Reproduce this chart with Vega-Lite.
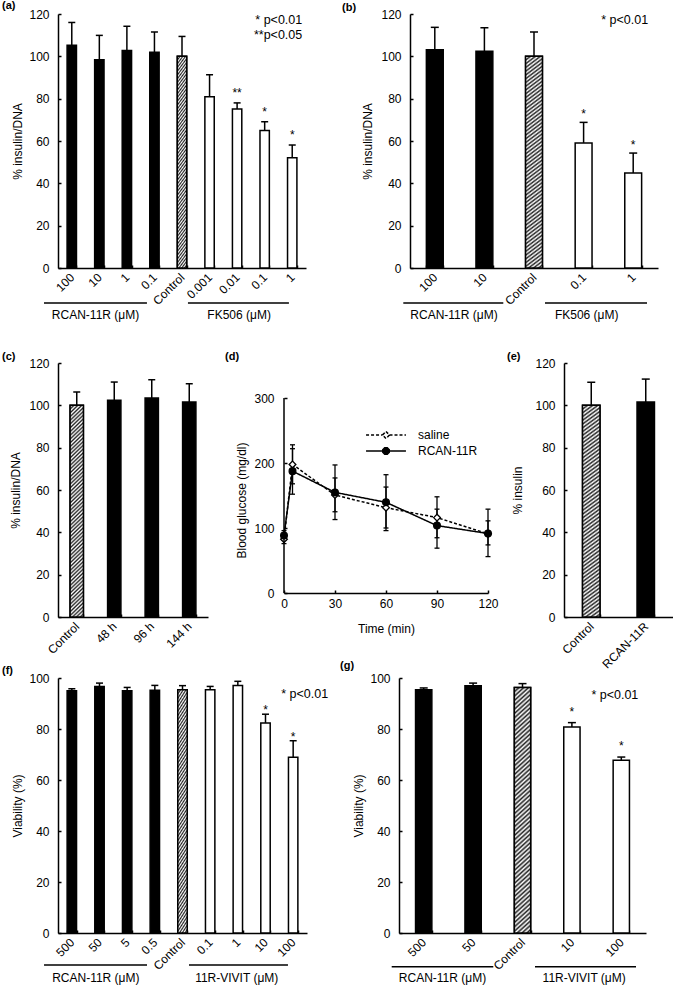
{
"$schema": "https://vega.github.io/schema/vega-lite/v6.json",
"background": "white",
"padding": {"left": 2, "top": 0, "right": 0, "bottom": 0},
"config": {
  "font": "Liberation Sans",
  "view": {"stroke": null},
  "axis": {"domainColor": "black", "domainWidth": 1.5, "tickColor": "black", "tickWidth": 1.5, "tickSize": -3, "labelColor": "black", "labelFontSize": 12, "titleColor": "black", "titleFontSize": 12, "titleFontWeight": "normal", "grid": false, "labelPadding": 12, "titlePadding": 4},
  "axisBand": {"labelAngle": -45, "labelAlign": "right", "labelBaseline": "middle", "tickBand": "extent", "labelPadding": 10},
  "title": {"anchor": "start", "frame": "group", "fontSize": 11, "fontWeight": "bold", "color": "black", "offset": -5, "baseline": "bottom"},
  "text": {"color": "black", "fontSize": 12}
},
"datasets": {
  "a": [
    {"key":"R:100","group":"rcan","mean":105.2,"upper":116.0,"star":""},
    {"key":"R:10","group":"rcan","mean":98.4,"upper":109.9,"star":""},
    {"key":"R:1","group":"rcan","mean":102.8,"upper":114.2,"star":""},
    {"key":"R:0.1","group":"rcan","mean":101.9,"upper":111.5,"star":""},
    {"key":"C:Control","group":"control","mean":100,"upper":109.4,"star":""},
    {"key":"F:0.001","group":"drug","mean":80.9,"upper":91.3,"star":""},
    {"key":"F:0.01","group":"drug","mean":75.1,"upper":78.0,"star":"**"},
    {"key":"F:0.1","group":"drug","mean":65.0,"upper":69.1,"star":"*"},
    {"key":"F:1","group":"drug","mean":52.1,"upper":58.1,"star":"*"}
  ],
  "b": [
    {"key":"R:100","group":"rcan","mean":103.1,"upper":113.7,"star":""},
    {"key":"R:10","group":"rcan","mean":102.4,"upper":113.5,"star":""},
    {"key":"C:Control","group":"control","mean":100,"upper":111.5,"star":""},
    {"key":"F:0.1","group":"drug","mean":59.1,"upper":68.8,"star":"*"},
    {"key":"F:1","group":"drug","mean":44.9,"upper":54.3,"star":"*"}
  ],
  "c": [
    {"key":"C:Control","group":"control","mean":100,"upper":106.3},
    {"key":"T:48 h","group":"rcan","mean":102.4,"upper":111.0},
    {"key":"T:96 h","group":"rcan","mean":103.5,"upper":112.1},
    {"key":"T:144 h","group":"rcan","mean":101.6,"upper":110.2}
  ],
  "d": [
    {"series":"saline","time":0,"mean":82.8,"lower":76,"upper":90},
    {"series":"saline","time":5,"mean":197.8,"lower":168,"upper":228},
    {"series":"saline","time":30,"mean":150.7,"lower":125,"upper":177},
    {"series":"saline","time":60,"mean":131.3,"lower":100,"upper":163},
    {"series":"saline","time":90,"mean":116,"lower":85,"upper":148},
    {"series":"saline","time":120,"mean":91,"lower":74,"upper":111},
    {"series":"RCAN-11R","time":0,"mean":88.4,"lower":81,"upper":96},
    {"series":"RCAN-11R","time":5,"mean":187.5,"lower":152,"upper":222},
    {"series":"RCAN-11R","time":30,"mean":154.8,"lower":113,"upper":197},
    {"series":"RCAN-11R","time":60,"mean":139.5,"lower":96,"upper":182},
    {"series":"RCAN-11R","time":90,"mean":103.7,"lower":69,"upper":129},
    {"series":"RCAN-11R","time":120,"mean":91.5,"lower":56,"upper":129}
  ],
  "e": [
    {"key":"C:Control","group":"control","mean":100,"upper":110.9},
    {"key":"R:RCAN-11R","group":"rcan","mean":101.6,"upper":112.4}
  ],
  "f": [
    {"key":"R:500","group":"rcan","mean":95.0,"upper":95.8,"star":""},
    {"key":"R:50","group":"rcan","mean":96.7,"upper":98.0,"star":""},
    {"key":"R:5","group":"rcan","mean":95.0,"upper":96.3,"star":""},
    {"key":"R:0.5","group":"rcan","mean":95.2,"upper":97.1,"star":""},
    {"key":"C:Control","group":"control","mean":95.4,"upper":97.0,"star":""},
    {"key":"V:0.1","group":"drug","mean":95.4,"upper":96.7,"star":""},
    {"key":"V:1","group":"drug","mean":97.1,"upper":98.7,"star":""},
    {"key":"V:10","group":"drug","mean":82.4,"upper":85.8,"star":"*"},
    {"key":"V:100","group":"drug","mean":68.9,"upper":75.4,"star":"*"}
  ],
  "g": [
    {"key":"R:500","group":"rcan","mean":95.4,"upper":96.1,"star":""},
    {"key":"R:50","group":"rcan","mean":97.0,"upper":98.0,"star":""},
    {"key":"C:Control","group":"control","mean":96.3,"upper":97.8,"star":""},
    {"key":"V:10","group":"drug","mean":80.8,"upper":82.5,"star":"*"},
    {"key":"V:100","group":"drug","mean":67.7,"upper":69.0,"star":"*"}
  ]
},
"bounds": "flush",
"spacing": 349,
"resolve": {"scale": {"strokeDash": "independent"}, "legend": {"strokeDash": "independent"}},
"vconcat": [
 {"hconcat": [
  {"width": 248, "height": 254, "title": {"text": "(a)", "dx": -56}, "data": {"name": "a"},
   "layer": [
    {"mark": {"type": "bar", "stroke": "black", "strokeWidth": 1.5},
     "encoding": {
      "x": {"field": "key", "type": "nominal", "scale": {"domain": ["R:100","R:10","R:1","R:0.1","C:Control","F:0.001","F:0.01","F:0.1","F:1"], "paddingInner": 0.66, "paddingOuter": 0.33}, "axis": {"title": null, "labelExpr": "substring(datum.label, 2)"}},
      "y": {"field": "mean", "type": "quantitative", "scale": {"domain": [0, 120], "nice": false}, "axis": {"values": [0,20,40,60,80,100,120], "title": "% insulin/DNA"}},
      "color": {"field": "group", "type": "nominal", "scale": {"domain": ["rcan","control","drug"], "range": ["black","white","white"]}, "legend": null}}},
    {"transform": [{"filter": "datum.group === 'control'"}], "mark": {"type": "bar", "stroke": "black", "strokeWidth": 1.5, "fill": {"gradient": "linear", "x1": 0, "y1": 0, "x2": 0.064, "y2": 1.06, "stops": [{"offset":0,"color":"#222"},{"offset":0.0083,"color":"#fff"},{"offset":0.0167,"color":"#222"},{"offset":0.025,"color":"#fff"},{"offset":0.0333,"color":"#222"},{"offset":0.0417,"color":"#fff"},{"offset":0.05,"color":"#222"},{"offset":0.0583,"color":"#fff"},{"offset":0.0667,"color":"#222"},{"offset":0.075,"color":"#fff"},{"offset":0.0833,"color":"#222"},{"offset":0.0917,"color":"#fff"},{"offset":0.1,"color":"#222"},{"offset":0.1083,"color":"#fff"},{"offset":0.1167,"color":"#222"},{"offset":0.125,"color":"#fff"},{"offset":0.1333,"color":"#222"},{"offset":0.1417,"color":"#fff"},{"offset":0.15,"color":"#222"},{"offset":0.1583,"color":"#fff"},{"offset":0.1667,"color":"#222"},{"offset":0.175,"color":"#fff"},{"offset":0.1833,"color":"#222"},{"offset":0.1917,"color":"#fff"},{"offset":0.2,"color":"#222"},{"offset":0.2083,"color":"#fff"},{"offset":0.2167,"color":"#222"},{"offset":0.225,"color":"#fff"},{"offset":0.2333,"color":"#222"},{"offset":0.2417,"color":"#fff"},{"offset":0.25,"color":"#222"},{"offset":0.2583,"color":"#fff"},{"offset":0.2667,"color":"#222"},{"offset":0.275,"color":"#fff"},{"offset":0.2833,"color":"#222"},{"offset":0.2917,"color":"#fff"},{"offset":0.3,"color":"#222"},{"offset":0.3083,"color":"#fff"},{"offset":0.3167,"color":"#222"},{"offset":0.325,"color":"#fff"},{"offset":0.3333,"color":"#222"},{"offset":0.3417,"color":"#fff"},{"offset":0.35,"color":"#222"},{"offset":0.3583,"color":"#fff"},{"offset":0.3667,"color":"#222"},{"offset":0.375,"color":"#fff"},{"offset":0.3833,"color":"#222"},{"offset":0.3917,"color":"#fff"},{"offset":0.4,"color":"#222"},{"offset":0.4083,"color":"#fff"},{"offset":0.4167,"color":"#222"},{"offset":0.425,"color":"#fff"},{"offset":0.4333,"color":"#222"},{"offset":0.4417,"color":"#fff"},{"offset":0.45,"color":"#222"},{"offset":0.4583,"color":"#fff"},{"offset":0.4667,"color":"#222"},{"offset":0.475,"color":"#fff"},{"offset":0.4833,"color":"#222"},{"offset":0.4917,"color":"#fff"},{"offset":0.5,"color":"#222"},{"offset":0.5083,"color":"#fff"},{"offset":0.5167,"color":"#222"},{"offset":0.525,"color":"#fff"},{"offset":0.5333,"color":"#222"},{"offset":0.5417,"color":"#fff"},{"offset":0.55,"color":"#222"},{"offset":0.5583,"color":"#fff"},{"offset":0.5667,"color":"#222"},{"offset":0.575,"color":"#fff"},{"offset":0.5833,"color":"#222"},{"offset":0.5917,"color":"#fff"},{"offset":0.6,"color":"#222"},{"offset":0.6083,"color":"#fff"},{"offset":0.6167,"color":"#222"},{"offset":0.625,"color":"#fff"},{"offset":0.6333,"color":"#222"},{"offset":0.6417,"color":"#fff"},{"offset":0.65,"color":"#222"},{"offset":0.6583,"color":"#fff"},{"offset":0.6667,"color":"#222"},{"offset":0.675,"color":"#fff"},{"offset":0.6833,"color":"#222"},{"offset":0.6917,"color":"#fff"},{"offset":0.7,"color":"#222"},{"offset":0.7083,"color":"#fff"},{"offset":0.7167,"color":"#222"},{"offset":0.725,"color":"#fff"},{"offset":0.7333,"color":"#222"},{"offset":0.7417,"color":"#fff"},{"offset":0.75,"color":"#222"},{"offset":0.7583,"color":"#fff"},{"offset":0.7667,"color":"#222"},{"offset":0.775,"color":"#fff"},{"offset":0.7833,"color":"#222"},{"offset":0.7917,"color":"#fff"},{"offset":0.8,"color":"#222"},{"offset":0.8083,"color":"#fff"},{"offset":0.8167,"color":"#222"},{"offset":0.825,"color":"#fff"},{"offset":0.8333,"color":"#222"},{"offset":0.8417,"color":"#fff"},{"offset":0.85,"color":"#222"},{"offset":0.8583,"color":"#fff"},{"offset":0.8667,"color":"#222"},{"offset":0.875,"color":"#fff"},{"offset":0.8833,"color":"#222"},{"offset":0.8917,"color":"#fff"},{"offset":0.9,"color":"#222"},{"offset":0.9083,"color":"#fff"},{"offset":0.9167,"color":"#222"},{"offset":0.925,"color":"#fff"},{"offset":0.9333,"color":"#222"},{"offset":0.9417,"color":"#fff"},{"offset":0.95,"color":"#222"},{"offset":0.9583,"color":"#fff"},{"offset":0.9667,"color":"#222"},{"offset":0.975,"color":"#fff"},{"offset":0.9833,"color":"#222"},{"offset":0.9917,"color":"#fff"},{"offset":1,"color":"#222"}]}}, "encoding": {"x": {"field": "key", "type": "nominal"}, "y": {"field": "mean", "type": "quantitative"}}},
    {"mark": {"type": "rule", "color": "black", "strokeWidth": 1.5}, "encoding": {"x": {"field": "key", "type": "nominal"}, "y": {"field": "mean", "type": "quantitative"}, "y2": {"field": "upper"}}},
    {"mark": {"type": "tick", "orient": "horizontal", "size": 7, "thickness": 1.5, "color": "black", "opacity": 1}, "encoding": {"x": {"field": "key", "type": "nominal"}, "y": {"field": "upper", "type": "quantitative"}}},
    {"mark": {"type": "text", "baseline": "alphabetic", "dy": -6, "fontSize": 12}, "encoding": {"x": {"field": "key", "type": "nominal"}, "y": {"field": "upper", "type": "quantitative"}, "text": {"field": "star"}}},
    {"data": {"values": [{}]}, "mark": {"type": "text", "align": "right", "baseline": "alphabetic", "lineHeight": 15, "dx": 10, "fontSize": 12.5}, "encoding": {"x": {"datum": "F:1"}, "y": {"datum": 115.3}, "text": {"value": ["* p<0.01", "**p<0.05"]}}},
    {"data": {"values": [{}]}, "mark": {"type": "rule", "color": "black", "strokeWidth": 1.5, "xOffset": -27.8, "x2Offset": -7.5}, "encoding": {"x": {"datum": "R:100"}, "x2": {"datum": "R:0.1"}, "y": {"datum": -16.5}}},
    {"data": {"values": [{}]}, "mark": {"type": "rule", "color": "black", "strokeWidth": 1.5, "xOffset": -21.6, "x2Offset": -3.3}, "encoding": {"x": {"datum": "F:0.001"}, "x2": {"datum": "F:1"}, "y": {"datum": -16.5}}},
    {"data": {"values": [{}]}, "mark": {"type": "text", "baseline": "middle", "dx": -3.8}, "encoding": {"x": {"datum": "R:10"}, "y": {"datum": -22.2}, "text": {"value": "RCAN-11R (μM)"}}},
    {"data": {"values": [{}]}, "mark": {"type": "text", "baseline": "middle", "dx": 2}, "encoding": {"x": {"datum": "F:0.01"}, "y": {"datum": -22.2}, "text": {"value": "FK506 (μM)"}}}
   ]},
  {"width": 248, "height": 254, "title": {"text": "(b)", "dx": -68}, "data": {"name": "b"},
   "layer": [
    {"mark": {"type": "bar", "stroke": "black", "strokeWidth": 1.5},
     "encoding": {
      "x": {"field": "key", "type": "nominal", "scale": {"domain": ["R:100","R:10","C:Control","F:0.1","F:1"], "paddingInner": 0.66, "paddingOuter": 0.33}, "axis": {"title": null, "labelExpr": "substring(datum.label, 2)"}},
      "y": {"field": "mean", "type": "quantitative", "scale": {"domain": [0, 120], "nice": false}, "axis": {"values": [0,20,40,60,80,100,120], "title": "% insulin/DNA", "titlePadding": 6}},
      "color": {"field": "group", "type": "nominal", "scale": {"domain": ["rcan","control","drug"], "range": ["black","white","white"]}, "legend": null}}},
    {"transform": [{"filter": "datum.group === 'control'"}], "mark": {"type": "bar", "stroke": "black", "strokeWidth": 1.5, "fill": {"gradient": "linear", "x1": 0, "y1": 0, "x2": 0.064, "y2": 1.06, "stops": [{"offset":0,"color":"#222"},{"offset":0.0083,"color":"#fff"},{"offset":0.0167,"color":"#222"},{"offset":0.025,"color":"#fff"},{"offset":0.0333,"color":"#222"},{"offset":0.0417,"color":"#fff"},{"offset":0.05,"color":"#222"},{"offset":0.0583,"color":"#fff"},{"offset":0.0667,"color":"#222"},{"offset":0.075,"color":"#fff"},{"offset":0.0833,"color":"#222"},{"offset":0.0917,"color":"#fff"},{"offset":0.1,"color":"#222"},{"offset":0.1083,"color":"#fff"},{"offset":0.1167,"color":"#222"},{"offset":0.125,"color":"#fff"},{"offset":0.1333,"color":"#222"},{"offset":0.1417,"color":"#fff"},{"offset":0.15,"color":"#222"},{"offset":0.1583,"color":"#fff"},{"offset":0.1667,"color":"#222"},{"offset":0.175,"color":"#fff"},{"offset":0.1833,"color":"#222"},{"offset":0.1917,"color":"#fff"},{"offset":0.2,"color":"#222"},{"offset":0.2083,"color":"#fff"},{"offset":0.2167,"color":"#222"},{"offset":0.225,"color":"#fff"},{"offset":0.2333,"color":"#222"},{"offset":0.2417,"color":"#fff"},{"offset":0.25,"color":"#222"},{"offset":0.2583,"color":"#fff"},{"offset":0.2667,"color":"#222"},{"offset":0.275,"color":"#fff"},{"offset":0.2833,"color":"#222"},{"offset":0.2917,"color":"#fff"},{"offset":0.3,"color":"#222"},{"offset":0.3083,"color":"#fff"},{"offset":0.3167,"color":"#222"},{"offset":0.325,"color":"#fff"},{"offset":0.3333,"color":"#222"},{"offset":0.3417,"color":"#fff"},{"offset":0.35,"color":"#222"},{"offset":0.3583,"color":"#fff"},{"offset":0.3667,"color":"#222"},{"offset":0.375,"color":"#fff"},{"offset":0.3833,"color":"#222"},{"offset":0.3917,"color":"#fff"},{"offset":0.4,"color":"#222"},{"offset":0.4083,"color":"#fff"},{"offset":0.4167,"color":"#222"},{"offset":0.425,"color":"#fff"},{"offset":0.4333,"color":"#222"},{"offset":0.4417,"color":"#fff"},{"offset":0.45,"color":"#222"},{"offset":0.4583,"color":"#fff"},{"offset":0.4667,"color":"#222"},{"offset":0.475,"color":"#fff"},{"offset":0.4833,"color":"#222"},{"offset":0.4917,"color":"#fff"},{"offset":0.5,"color":"#222"},{"offset":0.5083,"color":"#fff"},{"offset":0.5167,"color":"#222"},{"offset":0.525,"color":"#fff"},{"offset":0.5333,"color":"#222"},{"offset":0.5417,"color":"#fff"},{"offset":0.55,"color":"#222"},{"offset":0.5583,"color":"#fff"},{"offset":0.5667,"color":"#222"},{"offset":0.575,"color":"#fff"},{"offset":0.5833,"color":"#222"},{"offset":0.5917,"color":"#fff"},{"offset":0.6,"color":"#222"},{"offset":0.6083,"color":"#fff"},{"offset":0.6167,"color":"#222"},{"offset":0.625,"color":"#fff"},{"offset":0.6333,"color":"#222"},{"offset":0.6417,"color":"#fff"},{"offset":0.65,"color":"#222"},{"offset":0.6583,"color":"#fff"},{"offset":0.6667,"color":"#222"},{"offset":0.675,"color":"#fff"},{"offset":0.6833,"color":"#222"},{"offset":0.6917,"color":"#fff"},{"offset":0.7,"color":"#222"},{"offset":0.7083,"color":"#fff"},{"offset":0.7167,"color":"#222"},{"offset":0.725,"color":"#fff"},{"offset":0.7333,"color":"#222"},{"offset":0.7417,"color":"#fff"},{"offset":0.75,"color":"#222"},{"offset":0.7583,"color":"#fff"},{"offset":0.7667,"color":"#222"},{"offset":0.775,"color":"#fff"},{"offset":0.7833,"color":"#222"},{"offset":0.7917,"color":"#fff"},{"offset":0.8,"color":"#222"},{"offset":0.8083,"color":"#fff"},{"offset":0.8167,"color":"#222"},{"offset":0.825,"color":"#fff"},{"offset":0.8333,"color":"#222"},{"offset":0.8417,"color":"#fff"},{"offset":0.85,"color":"#222"},{"offset":0.8583,"color":"#fff"},{"offset":0.8667,"color":"#222"},{"offset":0.875,"color":"#fff"},{"offset":0.8833,"color":"#222"},{"offset":0.8917,"color":"#fff"},{"offset":0.9,"color":"#222"},{"offset":0.9083,"color":"#fff"},{"offset":0.9167,"color":"#222"},{"offset":0.925,"color":"#fff"},{"offset":0.9333,"color":"#222"},{"offset":0.9417,"color":"#fff"},{"offset":0.95,"color":"#222"},{"offset":0.9583,"color":"#fff"},{"offset":0.9667,"color":"#222"},{"offset":0.975,"color":"#fff"},{"offset":0.9833,"color":"#222"},{"offset":0.9917,"color":"#fff"},{"offset":1,"color":"#222"}]}}, "encoding": {"x": {"field": "key", "type": "nominal"}, "y": {"field": "mean", "type": "quantitative"}}},
    {"mark": {"type": "rule", "color": "black", "strokeWidth": 1.5}, "encoding": {"x": {"field": "key", "type": "nominal"}, "y": {"field": "mean", "type": "quantitative"}, "y2": {"field": "upper"}}},
    {"mark": {"type": "tick", "orient": "horizontal", "size": 8, "thickness": 1.5, "color": "black", "opacity": 1}, "encoding": {"x": {"field": "key", "type": "nominal"}, "y": {"field": "upper", "type": "quantitative"}}},
    {"mark": {"type": "text", "baseline": "alphabetic", "dy": -4, "fontSize": 12}, "encoding": {"x": {"field": "key", "type": "nominal"}, "y": {"field": "upper", "type": "quantitative"}, "text": {"field": "star"}}},
    {"data": {"values": [{}]}, "mark": {"type": "text", "align": "right", "baseline": "alphabetic", "dx": 15, "fontSize": 12.5}, "encoding": {"x": {"datum": "F:1"}, "y": {"datum": 115.3}, "text": {"value": "* p<0.01"}}},
    {"data": {"values": [{}]}, "mark": {"type": "rule", "color": "black", "strokeWidth": 1.5, "xOffset": -31.5, "x2Offset": 18.9}, "encoding": {"x": {"datum": "R:100"}, "x2": {"datum": "R:10"}, "y": {"datum": -16.5}}},
    {"data": {"values": [{}]}, "mark": {"type": "rule", "color": "black", "strokeWidth": 1.5, "xOffset": -38.6, "x2Offset": 13.8}, "encoding": {"x": {"datum": "F:0.1"}, "x2": {"datum": "F:1"}, "y": {"datum": -16.5}}},
    {"data": {"values": [{}]}, "mark": {"type": "text", "baseline": "middle", "dx": 19.2}, "encoding": {"x": {"datum": "R:100"}, "y": {"datum": -22.2}, "text": {"value": "RCAN-11R (μM)"}}},
    {"data": {"values": [{}]}, "mark": {"type": "text", "baseline": "middle", "dx": 3.1}, "encoding": {"x": {"datum": "F:0.1"}, "y": {"datum": -22.2}, "text": {"value": "FK506 (μM)"}}}
   ]}
 ], "spacing": 104, "bounds": "flush"},
 {"vconcat": [
  {"hconcat": [
   {"width": 150, "height": 254, "title": {"text": "(c)", "dx": -56}, "data": {"name": "c"},
    "layer": [
     {"mark": {"type": "bar", "stroke": "black", "strokeWidth": 1.5},
      "encoding": {
       "x": {"field": "key", "type": "nominal", "scale": {"domain": ["C:Control","T:48 h","T:96 h","T:144 h"], "paddingInner": 0.645, "paddingOuter": 0.3225}, "axis": {"title": null, "labelExpr": "substring(datum.label, 2)"}},
       "y": {"field": "mean", "type": "quantitative", "scale": {"domain": [0, 120], "nice": false}, "axis": {"values": [0,20,40,60,80,100,120], "title": "% insulin/DNA", "titlePadding": 6}},
       "color": {"field": "group", "type": "nominal", "scale": {"domain": ["rcan","control","drug"], "range": ["black","white","white"]}, "legend": null}}},
     {"transform": [{"filter": "datum.group === 'control'"}], "mark": {"type": "bar", "stroke": "black", "strokeWidth": 1.5, "fill": {"gradient": "linear", "x1": 0, "y1": 0, "x2": 0.064, "y2": 1.06, "stops": [{"offset":0,"color":"#222"},{"offset":0.0083,"color":"#fff"},{"offset":0.0167,"color":"#222"},{"offset":0.025,"color":"#fff"},{"offset":0.0333,"color":"#222"},{"offset":0.0417,"color":"#fff"},{"offset":0.05,"color":"#222"},{"offset":0.0583,"color":"#fff"},{"offset":0.0667,"color":"#222"},{"offset":0.075,"color":"#fff"},{"offset":0.0833,"color":"#222"},{"offset":0.0917,"color":"#fff"},{"offset":0.1,"color":"#222"},{"offset":0.1083,"color":"#fff"},{"offset":0.1167,"color":"#222"},{"offset":0.125,"color":"#fff"},{"offset":0.1333,"color":"#222"},{"offset":0.1417,"color":"#fff"},{"offset":0.15,"color":"#222"},{"offset":0.1583,"color":"#fff"},{"offset":0.1667,"color":"#222"},{"offset":0.175,"color":"#fff"},{"offset":0.1833,"color":"#222"},{"offset":0.1917,"color":"#fff"},{"offset":0.2,"color":"#222"},{"offset":0.2083,"color":"#fff"},{"offset":0.2167,"color":"#222"},{"offset":0.225,"color":"#fff"},{"offset":0.2333,"color":"#222"},{"offset":0.2417,"color":"#fff"},{"offset":0.25,"color":"#222"},{"offset":0.2583,"color":"#fff"},{"offset":0.2667,"color":"#222"},{"offset":0.275,"color":"#fff"},{"offset":0.2833,"color":"#222"},{"offset":0.2917,"color":"#fff"},{"offset":0.3,"color":"#222"},{"offset":0.3083,"color":"#fff"},{"offset":0.3167,"color":"#222"},{"offset":0.325,"color":"#fff"},{"offset":0.3333,"color":"#222"},{"offset":0.3417,"color":"#fff"},{"offset":0.35,"color":"#222"},{"offset":0.3583,"color":"#fff"},{"offset":0.3667,"color":"#222"},{"offset":0.375,"color":"#fff"},{"offset":0.3833,"color":"#222"},{"offset":0.3917,"color":"#fff"},{"offset":0.4,"color":"#222"},{"offset":0.4083,"color":"#fff"},{"offset":0.4167,"color":"#222"},{"offset":0.425,"color":"#fff"},{"offset":0.4333,"color":"#222"},{"offset":0.4417,"color":"#fff"},{"offset":0.45,"color":"#222"},{"offset":0.4583,"color":"#fff"},{"offset":0.4667,"color":"#222"},{"offset":0.475,"color":"#fff"},{"offset":0.4833,"color":"#222"},{"offset":0.4917,"color":"#fff"},{"offset":0.5,"color":"#222"},{"offset":0.5083,"color":"#fff"},{"offset":0.5167,"color":"#222"},{"offset":0.525,"color":"#fff"},{"offset":0.5333,"color":"#222"},{"offset":0.5417,"color":"#fff"},{"offset":0.55,"color":"#222"},{"offset":0.5583,"color":"#fff"},{"offset":0.5667,"color":"#222"},{"offset":0.575,"color":"#fff"},{"offset":0.5833,"color":"#222"},{"offset":0.5917,"color":"#fff"},{"offset":0.6,"color":"#222"},{"offset":0.6083,"color":"#fff"},{"offset":0.6167,"color":"#222"},{"offset":0.625,"color":"#fff"},{"offset":0.6333,"color":"#222"},{"offset":0.6417,"color":"#fff"},{"offset":0.65,"color":"#222"},{"offset":0.6583,"color":"#fff"},{"offset":0.6667,"color":"#222"},{"offset":0.675,"color":"#fff"},{"offset":0.6833,"color":"#222"},{"offset":0.6917,"color":"#fff"},{"offset":0.7,"color":"#222"},{"offset":0.7083,"color":"#fff"},{"offset":0.7167,"color":"#222"},{"offset":0.725,"color":"#fff"},{"offset":0.7333,"color":"#222"},{"offset":0.7417,"color":"#fff"},{"offset":0.75,"color":"#222"},{"offset":0.7583,"color":"#fff"},{"offset":0.7667,"color":"#222"},{"offset":0.775,"color":"#fff"},{"offset":0.7833,"color":"#222"},{"offset":0.7917,"color":"#fff"},{"offset":0.8,"color":"#222"},{"offset":0.8083,"color":"#fff"},{"offset":0.8167,"color":"#222"},{"offset":0.825,"color":"#fff"},{"offset":0.8333,"color":"#222"},{"offset":0.8417,"color":"#fff"},{"offset":0.85,"color":"#222"},{"offset":0.8583,"color":"#fff"},{"offset":0.8667,"color":"#222"},{"offset":0.875,"color":"#fff"},{"offset":0.8833,"color":"#222"},{"offset":0.8917,"color":"#fff"},{"offset":0.9,"color":"#222"},{"offset":0.9083,"color":"#fff"},{"offset":0.9167,"color":"#222"},{"offset":0.925,"color":"#fff"},{"offset":0.9333,"color":"#222"},{"offset":0.9417,"color":"#fff"},{"offset":0.95,"color":"#222"},{"offset":0.9583,"color":"#fff"},{"offset":0.9667,"color":"#222"},{"offset":0.975,"color":"#fff"},{"offset":0.9833,"color":"#222"},{"offset":0.9917,"color":"#fff"},{"offset":1,"color":"#222"}]}}, "encoding": {"x": {"field": "key", "type": "nominal"}, "y": {"field": "mean", "type": "quantitative"}}},
     {"mark": {"type": "rule", "color": "black", "strokeWidth": 1.5}, "encoding": {"x": {"field": "key", "type": "nominal"}, "y": {"field": "mean", "type": "quantitative"}, "y2": {"field": "upper"}}},
     {"mark": {"type": "tick", "orient": "horizontal", "size": 7, "thickness": 1.5, "color": "black", "opacity": 1}, "encoding": {"x": {"field": "key", "type": "nominal"}, "y": {"field": "upper", "type": "quantitative"}}}
    ]},
   {"width": 204, "height": 254, "title": {"text": "(d)", "dx": -59, "dy": -6}, "data": {"name": "d"},
    "layer": [
     {"mark": {"type": "rule", "color": "black", "strokeWidth": 1.3},
      "encoding": {
       "x": {"field": "time", "type": "quantitative", "scale": {"domain": [0, 120], "nice": false, "zero": false}, "axis": {"values": [0,30,60,90,120], "title": "Time (min)", "offset": -24, "labelAngle": 0, "labelAlign": "center", "labelBaseline": "top", "labelPadding": 8, "labelFlush": false, "titlePadding": 14}},
       "y": {"field": "lower", "type": "quantitative", "scale": {"domain": [-36.92, 353.85], "nice": false, "zero": false}, "axis": {"values": [0,100,200,300], "domain": false, "title": "Blood glucose (mg/dl)", "titleY": 137, "labelPadding": 13, "titlePadding": 5}},
       "y2": {"field": "upper"},
       "detail": {"field": "series"}}},
     {"mark": {"type": "tick", "orient": "horizontal", "size": 5, "thickness": 1.3, "color": "black", "opacity": 1}, "encoding": {"x": {"field": "time", "type": "quantitative"}, "y": {"field": "lower", "type": "quantitative"}}},
     {"mark": {"type": "tick", "orient": "horizontal", "size": 5, "thickness": 1.3, "color": "black", "opacity": 1}, "encoding": {"x": {"field": "time", "type": "quantitative"}, "y": {"field": "upper", "type": "quantitative"}}},
     {"mark": {"type": "line", "color": "black", "strokeWidth": 1.5},
      "encoding": {
       "x": {"field": "time", "type": "quantitative"},
       "y": {"field": "mean", "type": "quantitative"},
       "strokeDash": {"field": "series", "type": "nominal", "scale": {"domain": ["saline","RCAN-11R"], "range": [[3,2],[1,0]]},
        "legend": {"title": null, "orient": "none", "legendX": 96, "legendY": 66, "labelFontSize": 12, "labelColor": "black", "labelOffset": 26, "symbolSize": 49, "rowPadding": 2, "symbolStrokeColor": "black", "symbolStrokeWidth": 1.5, "padding": 0,
         "encoding": {"symbols": {
          "shape": {"value": {"expr": "datum.value === 'saline' ? 'M-5.7,0L-1,0M1,0L5.7,0M0,-1L1,0L0,1L-1,0Z' : 'M-5.7,0L5.7,0M0.92,0.38L0.38,0.92L-0.38,0.92L-0.92,0.38L-0.92,-0.38L-0.38,-0.92L0.38,-0.92L0.92,-0.38Z'"}},
          "fill": {"value": {"expr": "datum.value === 'saline' ? 'white' : 'black'"}},
          "stroke": {"value": "black"}}}}}}},
     {"transform": [{"filter": "datum.series === 'saline'"}], "mark": {"type": "point", "shape": "diamond", "filled": true, "fill": "white", "size": 45, "stroke": "black", "strokeWidth": 1.3, "opacity": 1},
      "encoding": {"x": {"field": "time", "type": "quantitative"}, "y": {"field": "mean", "type": "quantitative"}}},
     {"transform": [{"filter": "datum.series === 'RCAN-11R'"}], "mark": {"type": "point", "shape": "circle", "filled": true, "fill": "black", "size": 45, "stroke": "black", "strokeWidth": 1.3, "opacity": 1},
      "encoding": {"x": {"field": "time", "type": "quantitative"}, "y": {"field": "mean", "type": "quantitative"}}},
     {"data": {"values": [{}]}, "mark": {"type": "rule", "color": "black", "strokeWidth": 1.5}, "encoding": {"x": {"datum": 0, "type": "quantitative"}, "y": {"datum": 0, "type": "quantitative"}, "y2": {"datum": 300}}}
    ]},
   {"width": 109, "height": 254, "title": {"text": "(e)", "dx": -57}, "data": {"name": "e"},
    "layer": [
     {"mark": {"type": "bar", "stroke": "black", "strokeWidth": 1.5},
      "encoding": {
       "x": {"field": "key", "type": "nominal", "scale": {"domain": ["C:Control","R:RCAN-11R"], "paddingInner": 0.68, "paddingOuter": 0.34}, "axis": {"title": null, "labelExpr": "substring(datum.label, 2)"}},
       "y": {"field": "mean", "type": "quantitative", "scale": {"domain": [0, 120], "nice": false}, "axis": {"values": [0,20,40,60,80,100,120], "title": "% insulin", "titlePadding": 10}},
       "color": {"field": "group", "type": "nominal", "scale": {"domain": ["rcan","control","drug"], "range": ["black","white","white"]}, "legend": null}}},
     {"transform": [{"filter": "datum.group === 'control'"}], "mark": {"type": "bar", "stroke": "black", "strokeWidth": 1.5, "fill": {"gradient": "linear", "x1": 0, "y1": 0, "x2": 0.064, "y2": 1.06, "stops": [{"offset":0,"color":"#222"},{"offset":0.0083,"color":"#fff"},{"offset":0.0167,"color":"#222"},{"offset":0.025,"color":"#fff"},{"offset":0.0333,"color":"#222"},{"offset":0.0417,"color":"#fff"},{"offset":0.05,"color":"#222"},{"offset":0.0583,"color":"#fff"},{"offset":0.0667,"color":"#222"},{"offset":0.075,"color":"#fff"},{"offset":0.0833,"color":"#222"},{"offset":0.0917,"color":"#fff"},{"offset":0.1,"color":"#222"},{"offset":0.1083,"color":"#fff"},{"offset":0.1167,"color":"#222"},{"offset":0.125,"color":"#fff"},{"offset":0.1333,"color":"#222"},{"offset":0.1417,"color":"#fff"},{"offset":0.15,"color":"#222"},{"offset":0.1583,"color":"#fff"},{"offset":0.1667,"color":"#222"},{"offset":0.175,"color":"#fff"},{"offset":0.1833,"color":"#222"},{"offset":0.1917,"color":"#fff"},{"offset":0.2,"color":"#222"},{"offset":0.2083,"color":"#fff"},{"offset":0.2167,"color":"#222"},{"offset":0.225,"color":"#fff"},{"offset":0.2333,"color":"#222"},{"offset":0.2417,"color":"#fff"},{"offset":0.25,"color":"#222"},{"offset":0.2583,"color":"#fff"},{"offset":0.2667,"color":"#222"},{"offset":0.275,"color":"#fff"},{"offset":0.2833,"color":"#222"},{"offset":0.2917,"color":"#fff"},{"offset":0.3,"color":"#222"},{"offset":0.3083,"color":"#fff"},{"offset":0.3167,"color":"#222"},{"offset":0.325,"color":"#fff"},{"offset":0.3333,"color":"#222"},{"offset":0.3417,"color":"#fff"},{"offset":0.35,"color":"#222"},{"offset":0.3583,"color":"#fff"},{"offset":0.3667,"color":"#222"},{"offset":0.375,"color":"#fff"},{"offset":0.3833,"color":"#222"},{"offset":0.3917,"color":"#fff"},{"offset":0.4,"color":"#222"},{"offset":0.4083,"color":"#fff"},{"offset":0.4167,"color":"#222"},{"offset":0.425,"color":"#fff"},{"offset":0.4333,"color":"#222"},{"offset":0.4417,"color":"#fff"},{"offset":0.45,"color":"#222"},{"offset":0.4583,"color":"#fff"},{"offset":0.4667,"color":"#222"},{"offset":0.475,"color":"#fff"},{"offset":0.4833,"color":"#222"},{"offset":0.4917,"color":"#fff"},{"offset":0.5,"color":"#222"},{"offset":0.5083,"color":"#fff"},{"offset":0.5167,"color":"#222"},{"offset":0.525,"color":"#fff"},{"offset":0.5333,"color":"#222"},{"offset":0.5417,"color":"#fff"},{"offset":0.55,"color":"#222"},{"offset":0.5583,"color":"#fff"},{"offset":0.5667,"color":"#222"},{"offset":0.575,"color":"#fff"},{"offset":0.5833,"color":"#222"},{"offset":0.5917,"color":"#fff"},{"offset":0.6,"color":"#222"},{"offset":0.6083,"color":"#fff"},{"offset":0.6167,"color":"#222"},{"offset":0.625,"color":"#fff"},{"offset":0.6333,"color":"#222"},{"offset":0.6417,"color":"#fff"},{"offset":0.65,"color":"#222"},{"offset":0.6583,"color":"#fff"},{"offset":0.6667,"color":"#222"},{"offset":0.675,"color":"#fff"},{"offset":0.6833,"color":"#222"},{"offset":0.6917,"color":"#fff"},{"offset":0.7,"color":"#222"},{"offset":0.7083,"color":"#fff"},{"offset":0.7167,"color":"#222"},{"offset":0.725,"color":"#fff"},{"offset":0.7333,"color":"#222"},{"offset":0.7417,"color":"#fff"},{"offset":0.75,"color":"#222"},{"offset":0.7583,"color":"#fff"},{"offset":0.7667,"color":"#222"},{"offset":0.775,"color":"#fff"},{"offset":0.7833,"color":"#222"},{"offset":0.7917,"color":"#fff"},{"offset":0.8,"color":"#222"},{"offset":0.8083,"color":"#fff"},{"offset":0.8167,"color":"#222"},{"offset":0.825,"color":"#fff"},{"offset":0.8333,"color":"#222"},{"offset":0.8417,"color":"#fff"},{"offset":0.85,"color":"#222"},{"offset":0.8583,"color":"#fff"},{"offset":0.8667,"color":"#222"},{"offset":0.875,"color":"#fff"},{"offset":0.8833,"color":"#222"},{"offset":0.8917,"color":"#fff"},{"offset":0.9,"color":"#222"},{"offset":0.9083,"color":"#fff"},{"offset":0.9167,"color":"#222"},{"offset":0.925,"color":"#fff"},{"offset":0.9333,"color":"#222"},{"offset":0.9417,"color":"#fff"},{"offset":0.95,"color":"#222"},{"offset":0.9583,"color":"#fff"},{"offset":0.9667,"color":"#222"},{"offset":0.975,"color":"#fff"},{"offset":0.9833,"color":"#222"},{"offset":0.9917,"color":"#fff"},{"offset":1,"color":"#222"}]}}, "encoding": {"x": {"field": "key", "type": "nominal"}, "y": {"field": "mean", "type": "quantitative"}}},
     {"mark": {"type": "rule", "color": "black", "strokeWidth": 1.5}, "encoding": {"x": {"field": "key", "type": "nominal"}, "y": {"field": "mean", "type": "quantitative"}, "y2": {"field": "upper"}}},
     {"mark": {"type": "tick", "orient": "horizontal", "size": 8, "thickness": 1.5, "color": "black", "opacity": 1}, "encoding": {"x": {"field": "key", "type": "nominal"}, "y": {"field": "upper", "type": "quantitative"}}}
    ]}
  ], "spacing": 76, "bounds": "flush", "resolve": {"scale": {"strokeDash": "independent"}, "legend": {"strokeDash": "independent"}}},
  {"hconcat": [
   {"width": 249, "height": 255, "title": {"text": "(f)", "dx": -56}, "data": {"name": "f"},
    "layer": [
     {"mark": {"type": "bar", "stroke": "black", "strokeWidth": 1.5},
      "encoding": {
       "x": {"field": "key", "type": "nominal", "scale": {"domain": ["R:500","R:50","R:5","R:0.5","C:Control","V:0.1","V:1","V:10","V:100"], "paddingInner": 0.66, "paddingOuter": 0.33}, "axis": {"title": null, "labelExpr": "substring(datum.label, 2)"}},
       "y": {"field": "mean", "type": "quantitative", "scale": {"domain": [0, 100], "nice": false}, "axis": {"values": [0,10,20,30,40,50,60,70,80,90,100], "title": "Viability (%)"}},
       "color": {"field": "group", "type": "nominal", "scale": {"domain": ["rcan","control","drug"], "range": ["black","white","white"]}, "legend": null}}},
     {"transform": [{"filter": "datum.group === 'control'"}], "mark": {"type": "bar", "stroke": "black", "strokeWidth": 1.5, "fill": {"gradient": "linear", "x1": 0, "y1": 0, "x2": 0.064, "y2": 1.06, "stops": [{"offset":0,"color":"#222"},{"offset":0.0083,"color":"#fff"},{"offset":0.0167,"color":"#222"},{"offset":0.025,"color":"#fff"},{"offset":0.0333,"color":"#222"},{"offset":0.0417,"color":"#fff"},{"offset":0.05,"color":"#222"},{"offset":0.0583,"color":"#fff"},{"offset":0.0667,"color":"#222"},{"offset":0.075,"color":"#fff"},{"offset":0.0833,"color":"#222"},{"offset":0.0917,"color":"#fff"},{"offset":0.1,"color":"#222"},{"offset":0.1083,"color":"#fff"},{"offset":0.1167,"color":"#222"},{"offset":0.125,"color":"#fff"},{"offset":0.1333,"color":"#222"},{"offset":0.1417,"color":"#fff"},{"offset":0.15,"color":"#222"},{"offset":0.1583,"color":"#fff"},{"offset":0.1667,"color":"#222"},{"offset":0.175,"color":"#fff"},{"offset":0.1833,"color":"#222"},{"offset":0.1917,"color":"#fff"},{"offset":0.2,"color":"#222"},{"offset":0.2083,"color":"#fff"},{"offset":0.2167,"color":"#222"},{"offset":0.225,"color":"#fff"},{"offset":0.2333,"color":"#222"},{"offset":0.2417,"color":"#fff"},{"offset":0.25,"color":"#222"},{"offset":0.2583,"color":"#fff"},{"offset":0.2667,"color":"#222"},{"offset":0.275,"color":"#fff"},{"offset":0.2833,"color":"#222"},{"offset":0.2917,"color":"#fff"},{"offset":0.3,"color":"#222"},{"offset":0.3083,"color":"#fff"},{"offset":0.3167,"color":"#222"},{"offset":0.325,"color":"#fff"},{"offset":0.3333,"color":"#222"},{"offset":0.3417,"color":"#fff"},{"offset":0.35,"color":"#222"},{"offset":0.3583,"color":"#fff"},{"offset":0.3667,"color":"#222"},{"offset":0.375,"color":"#fff"},{"offset":0.3833,"color":"#222"},{"offset":0.3917,"color":"#fff"},{"offset":0.4,"color":"#222"},{"offset":0.4083,"color":"#fff"},{"offset":0.4167,"color":"#222"},{"offset":0.425,"color":"#fff"},{"offset":0.4333,"color":"#222"},{"offset":0.4417,"color":"#fff"},{"offset":0.45,"color":"#222"},{"offset":0.4583,"color":"#fff"},{"offset":0.4667,"color":"#222"},{"offset":0.475,"color":"#fff"},{"offset":0.4833,"color":"#222"},{"offset":0.4917,"color":"#fff"},{"offset":0.5,"color":"#222"},{"offset":0.5083,"color":"#fff"},{"offset":0.5167,"color":"#222"},{"offset":0.525,"color":"#fff"},{"offset":0.5333,"color":"#222"},{"offset":0.5417,"color":"#fff"},{"offset":0.55,"color":"#222"},{"offset":0.5583,"color":"#fff"},{"offset":0.5667,"color":"#222"},{"offset":0.575,"color":"#fff"},{"offset":0.5833,"color":"#222"},{"offset":0.5917,"color":"#fff"},{"offset":0.6,"color":"#222"},{"offset":0.6083,"color":"#fff"},{"offset":0.6167,"color":"#222"},{"offset":0.625,"color":"#fff"},{"offset":0.6333,"color":"#222"},{"offset":0.6417,"color":"#fff"},{"offset":0.65,"color":"#222"},{"offset":0.6583,"color":"#fff"},{"offset":0.6667,"color":"#222"},{"offset":0.675,"color":"#fff"},{"offset":0.6833,"color":"#222"},{"offset":0.6917,"color":"#fff"},{"offset":0.7,"color":"#222"},{"offset":0.7083,"color":"#fff"},{"offset":0.7167,"color":"#222"},{"offset":0.725,"color":"#fff"},{"offset":0.7333,"color":"#222"},{"offset":0.7417,"color":"#fff"},{"offset":0.75,"color":"#222"},{"offset":0.7583,"color":"#fff"},{"offset":0.7667,"color":"#222"},{"offset":0.775,"color":"#fff"},{"offset":0.7833,"color":"#222"},{"offset":0.7917,"color":"#fff"},{"offset":0.8,"color":"#222"},{"offset":0.8083,"color":"#fff"},{"offset":0.8167,"color":"#222"},{"offset":0.825,"color":"#fff"},{"offset":0.8333,"color":"#222"},{"offset":0.8417,"color":"#fff"},{"offset":0.85,"color":"#222"},{"offset":0.8583,"color":"#fff"},{"offset":0.8667,"color":"#222"},{"offset":0.875,"color":"#fff"},{"offset":0.8833,"color":"#222"},{"offset":0.8917,"color":"#fff"},{"offset":0.9,"color":"#222"},{"offset":0.9083,"color":"#fff"},{"offset":0.9167,"color":"#222"},{"offset":0.925,"color":"#fff"},{"offset":0.9333,"color":"#222"},{"offset":0.9417,"color":"#fff"},{"offset":0.95,"color":"#222"},{"offset":0.9583,"color":"#fff"},{"offset":0.9667,"color":"#222"},{"offset":0.975,"color":"#fff"},{"offset":0.9833,"color":"#222"},{"offset":0.9917,"color":"#fff"},{"offset":1,"color":"#222"}]}}, "encoding": {"x": {"field": "key", "type": "nominal"}, "y": {"field": "mean", "type": "quantitative"}}},
     {"mark": {"type": "rule", "color": "black", "strokeWidth": 1.5}, "encoding": {"x": {"field": "key", "type": "nominal"}, "y": {"field": "mean", "type": "quantitative"}, "y2": {"field": "upper"}}},
     {"mark": {"type": "tick", "orient": "horizontal", "size": 7, "thickness": 1.5, "color": "black", "opacity": 1}, "encoding": {"x": {"field": "key", "type": "nominal"}, "y": {"field": "upper", "type": "quantitative"}}},
     {"mark": {"type": "text", "baseline": "alphabetic", "dy": 0, "fontSize": 12}, "encoding": {"x": {"field": "key", "type": "nominal"}, "y": {"field": "upper", "type": "quantitative"}, "text": {"field": "star"}}},
     {"data": {"values": [{}]}, "mark": {"type": "text", "align": "right", "baseline": "alphabetic", "dx": 35, "fontSize": 12.5}, "encoding": {"x": {"datum": "V:100"}, "y": {"datum": 92.2}, "text": {"value": "* p<0.01"}}},
     {"data": {"values": [{}]}, "mark": {"type": "rule", "color": "black", "strokeWidth": 1.5, "xOffset": -27.8, "x2Offset": -7.8}, "encoding": {"x": {"datum": "R:500"}, "x2": {"datum": "R:0.5"}, "y": {"datum": -12.5}}},
     {"data": {"values": [{}]}, "mark": {"type": "rule", "color": "black", "strokeWidth": 1.5, "xOffset": -21.2, "x2Offset": -5.2}, "encoding": {"x": {"datum": "V:0.1"}, "x2": {"datum": "V:100"}, "y": {"datum": -12.5}}},
     {"data": {"values": [{}]}, "mark": {"type": "text", "baseline": "middle", "dx": -3.7}, "encoding": {"x": {"datum": "R:50"}, "y": {"datum": -17.6}, "text": {"value": "RCAN-11R (μM)"}}},
     {"data": {"values": [{}]}, "mark": {"type": "text", "baseline": "middle", "dx": -1.1}, "encoding": {"x": {"datum": "V:1"}, "y": {"datum": -17.6}, "text": {"value": "11R-VIVIT (μM)"}}}
    ]},
   {"width": 247, "height": 255, "title": {"text": "(g)", "dx": -59}, "data": {"name": "g"},
    "layer": [
     {"mark": {"type": "bar", "stroke": "black", "strokeWidth": 1.5},
      "encoding": {
       "x": {"field": "key", "type": "nominal", "scale": {"domain": ["R:500","R:50","C:Control","V:10","V:100"], "paddingInner": 0.67, "paddingOuter": 0.335}, "axis": {"title": null, "labelExpr": "substring(datum.label, 2)"}},
       "y": {"field": "mean", "type": "quantitative", "scale": {"domain": [0, 100], "nice": false}, "axis": {"values": [0,10,20,30,40,50,60,70,80,90,100], "title": "Viability (%)"}},
       "color": {"field": "group", "type": "nominal", "scale": {"domain": ["rcan","control","drug"], "range": ["black","white","white"]}, "legend": null}}},
     {"transform": [{"filter": "datum.group === 'control'"}], "mark": {"type": "bar", "stroke": "black", "strokeWidth": 1.5, "fill": {"gradient": "linear", "x1": 0, "y1": 0, "x2": 0.064, "y2": 1.06, "stops": [{"offset":0,"color":"#222"},{"offset":0.0083,"color":"#fff"},{"offset":0.0167,"color":"#222"},{"offset":0.025,"color":"#fff"},{"offset":0.0333,"color":"#222"},{"offset":0.0417,"color":"#fff"},{"offset":0.05,"color":"#222"},{"offset":0.0583,"color":"#fff"},{"offset":0.0667,"color":"#222"},{"offset":0.075,"color":"#fff"},{"offset":0.0833,"color":"#222"},{"offset":0.0917,"color":"#fff"},{"offset":0.1,"color":"#222"},{"offset":0.1083,"color":"#fff"},{"offset":0.1167,"color":"#222"},{"offset":0.125,"color":"#fff"},{"offset":0.1333,"color":"#222"},{"offset":0.1417,"color":"#fff"},{"offset":0.15,"color":"#222"},{"offset":0.1583,"color":"#fff"},{"offset":0.1667,"color":"#222"},{"offset":0.175,"color":"#fff"},{"offset":0.1833,"color":"#222"},{"offset":0.1917,"color":"#fff"},{"offset":0.2,"color":"#222"},{"offset":0.2083,"color":"#fff"},{"offset":0.2167,"color":"#222"},{"offset":0.225,"color":"#fff"},{"offset":0.2333,"color":"#222"},{"offset":0.2417,"color":"#fff"},{"offset":0.25,"color":"#222"},{"offset":0.2583,"color":"#fff"},{"offset":0.2667,"color":"#222"},{"offset":0.275,"color":"#fff"},{"offset":0.2833,"color":"#222"},{"offset":0.2917,"color":"#fff"},{"offset":0.3,"color":"#222"},{"offset":0.3083,"color":"#fff"},{"offset":0.3167,"color":"#222"},{"offset":0.325,"color":"#fff"},{"offset":0.3333,"color":"#222"},{"offset":0.3417,"color":"#fff"},{"offset":0.35,"color":"#222"},{"offset":0.3583,"color":"#fff"},{"offset":0.3667,"color":"#222"},{"offset":0.375,"color":"#fff"},{"offset":0.3833,"color":"#222"},{"offset":0.3917,"color":"#fff"},{"offset":0.4,"color":"#222"},{"offset":0.4083,"color":"#fff"},{"offset":0.4167,"color":"#222"},{"offset":0.425,"color":"#fff"},{"offset":0.4333,"color":"#222"},{"offset":0.4417,"color":"#fff"},{"offset":0.45,"color":"#222"},{"offset":0.4583,"color":"#fff"},{"offset":0.4667,"color":"#222"},{"offset":0.475,"color":"#fff"},{"offset":0.4833,"color":"#222"},{"offset":0.4917,"color":"#fff"},{"offset":0.5,"color":"#222"},{"offset":0.5083,"color":"#fff"},{"offset":0.5167,"color":"#222"},{"offset":0.525,"color":"#fff"},{"offset":0.5333,"color":"#222"},{"offset":0.5417,"color":"#fff"},{"offset":0.55,"color":"#222"},{"offset":0.5583,"color":"#fff"},{"offset":0.5667,"color":"#222"},{"offset":0.575,"color":"#fff"},{"offset":0.5833,"color":"#222"},{"offset":0.5917,"color":"#fff"},{"offset":0.6,"color":"#222"},{"offset":0.6083,"color":"#fff"},{"offset":0.6167,"color":"#222"},{"offset":0.625,"color":"#fff"},{"offset":0.6333,"color":"#222"},{"offset":0.6417,"color":"#fff"},{"offset":0.65,"color":"#222"},{"offset":0.6583,"color":"#fff"},{"offset":0.6667,"color":"#222"},{"offset":0.675,"color":"#fff"},{"offset":0.6833,"color":"#222"},{"offset":0.6917,"color":"#fff"},{"offset":0.7,"color":"#222"},{"offset":0.7083,"color":"#fff"},{"offset":0.7167,"color":"#222"},{"offset":0.725,"color":"#fff"},{"offset":0.7333,"color":"#222"},{"offset":0.7417,"color":"#fff"},{"offset":0.75,"color":"#222"},{"offset":0.7583,"color":"#fff"},{"offset":0.7667,"color":"#222"},{"offset":0.775,"color":"#fff"},{"offset":0.7833,"color":"#222"},{"offset":0.7917,"color":"#fff"},{"offset":0.8,"color":"#222"},{"offset":0.8083,"color":"#fff"},{"offset":0.8167,"color":"#222"},{"offset":0.825,"color":"#fff"},{"offset":0.8333,"color":"#222"},{"offset":0.8417,"color":"#fff"},{"offset":0.85,"color":"#222"},{"offset":0.8583,"color":"#fff"},{"offset":0.8667,"color":"#222"},{"offset":0.875,"color":"#fff"},{"offset":0.8833,"color":"#222"},{"offset":0.8917,"color":"#fff"},{"offset":0.9,"color":"#222"},{"offset":0.9083,"color":"#fff"},{"offset":0.9167,"color":"#222"},{"offset":0.925,"color":"#fff"},{"offset":0.9333,"color":"#222"},{"offset":0.9417,"color":"#fff"},{"offset":0.95,"color":"#222"},{"offset":0.9583,"color":"#fff"},{"offset":0.9667,"color":"#222"},{"offset":0.975,"color":"#fff"},{"offset":0.9833,"color":"#222"},{"offset":0.9917,"color":"#fff"},{"offset":1,"color":"#222"}]}}, "encoding": {"x": {"field": "key", "type": "nominal"}, "y": {"field": "mean", "type": "quantitative"}}},
     {"mark": {"type": "rule", "color": "black", "strokeWidth": 1.5}, "encoding": {"x": {"field": "key", "type": "nominal"}, "y": {"field": "mean", "type": "quantitative"}, "y2": {"field": "upper"}}},
     {"mark": {"type": "tick", "orient": "horizontal", "size": 8, "thickness": 1.5, "color": "black", "opacity": 1}, "encoding": {"x": {"field": "key", "type": "nominal"}, "y": {"field": "upper", "type": "quantitative"}}},
     {"mark": {"type": "text", "baseline": "alphabetic", "dy": -7, "fontSize": 12}, "encoding": {"x": {"field": "key", "type": "nominal"}, "y": {"field": "upper", "type": "quantitative"}, "text": {"field": "star"}}},
     {"data": {"values": [{}]}, "mark": {"type": "text", "align": "right", "baseline": "alphabetic", "dx": 17, "fontSize": 12.5}, "encoding": {"x": {"datum": "V:100"}, "y": {"datum": 91.8}, "text": {"value": "* p<0.01"}}},
     {"data": {"values": [{}]}, "mark": {"type": "rule", "color": "black", "strokeWidth": 1.5, "xOffset": -32, "x2Offset": 20.2}, "encoding": {"x": {"datum": "R:500"}, "x2": {"datum": "R:50"}, "y": {"datum": -13.2}}},
     {"data": {"values": [{}]}, "mark": {"type": "rule", "color": "black", "strokeWidth": 1.5, "xOffset": -36.9, "x2Offset": 14.7}, "encoding": {"x": {"datum": "V:10"}, "x2": {"datum": "V:100"}, "y": {"datum": -13.2}}},
     {"data": {"values": [{}]}, "mark": {"type": "text", "baseline": "middle", "dx": 18.8}, "encoding": {"x": {"datum": "R:500"}, "y": {"datum": -17.8}, "text": {"value": "RCAN-11R (μM)"}}},
     {"data": {"values": [{}]}, "mark": {"type": "text", "baseline": "middle", "dx": 12.3}, "encoding": {"x": {"datum": "V:10"}, "y": {"datum": -17.8}, "text": {"value": "11R-VIVIT (μM)"}}}
    ]}
  ], "spacing": 92, "bounds": "flush"}
 ], "spacing": 315, "bounds": "flush", "resolve": {"scale": {"strokeDash": "independent"}, "legend": {"strokeDash": "independent"}}}
]
}
